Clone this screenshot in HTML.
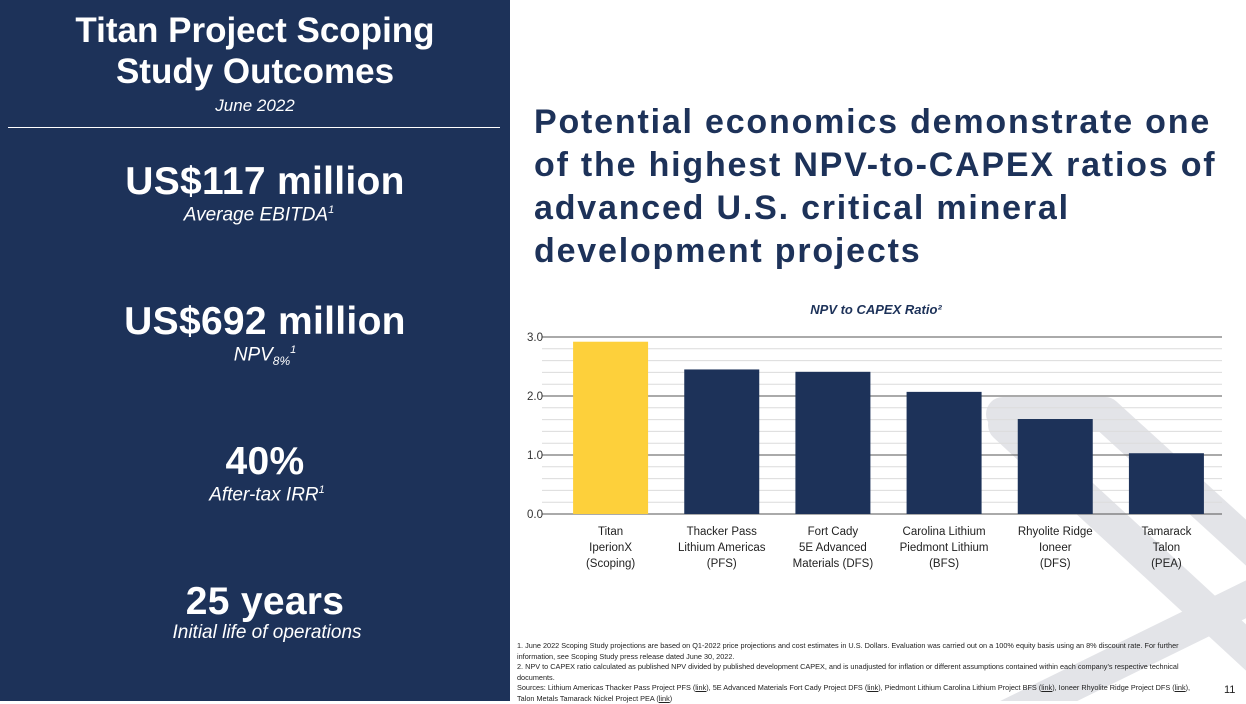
<!DOCTYPE html>
<html><head><meta charset="utf-8">
<style>
html,body{margin:0;padding:0;}
body{width:1246px;height:701px;position:relative;overflow:hidden;background:#fff;font-family:"Liberation Sans",sans-serif;}
#left{position:absolute;left:0;top:0;width:510px;height:701px;background:#1d3259;color:#fff;text-align:center;}
.big{position:absolute;left:0;width:510px;font-weight:bold;font-size:39px;letter-spacing:0.3px;}
.sub{position:absolute;left:0;width:510px;font-style:italic;font-size:19px;}
#title{position:absolute;left:534px;top:101px;width:712px;font-weight:bold;font-size:34px;line-height:43px;color:#1d3259;letter-spacing:1.8px;white-space:nowrap;}
#foot{position:absolute;left:517px;top:641px;width:690px;font-size:7.3px;line-height:10.5px;color:#222;}
</style></head><body>
<div id="left">
  <div style="position:absolute;left:0;top:10px;width:510px;font-weight:bold;font-size:35px;line-height:41px;">Titan Project Scoping<br>Study Outcomes</div>
  <div class="sub" style="top:96px;font-size:17px;">June 2022</div>
  <div style="position:absolute;left:8px;top:127px;width:492px;height:1px;background:#fff;"></div>
  <div class="big" style="top:160px;left:10px;">US$117 million</div>
  <div class="sub" style="top:204px;left:4px;">Average EBITDA<sup style="font-size:11px">1</sup></div>
  <div class="big" style="top:300px;left:10px;">US$692 million</div>
  <div class="sub" style="top:344px;left:10px;">NPV<sub style="font-size:12px">8%</sub><sup style="font-size:11px">1</sup></div>
  <div class="big" style="top:440px;left:10px;">40%</div>
  <div class="sub" style="top:484px;left:12px;">After-tax IRR<sup style="font-size:11px">1</sup></div>
  <div class="big" style="top:580px;left:10px;">25 years</div>
  <div class="sub" style="top:622px;left:12px;">Initial life of operations</div>
</div>
<svg style="position:absolute;left:0;top:0" width="1246" height="701">
  <path d="M1003,414 L1105,414 L1265,560" fill="none" stroke="#e3e4e8" stroke-width="34" stroke-linejoin="round" stroke-linecap="round"/>
  <path d="M1005,425 L1265,665" fill="none" stroke="#e3e4e8" stroke-width="34" stroke-linecap="round"/>
  <path d="M1000,720 L1265,590" fill="none" stroke="#e3e4e8" stroke-width="34" stroke-linecap="round"/>
</svg>
<div id="title">Potential economics demonstrate one<br>of the highest NPV-to-CAPEX ratios of<br>advanced U.S. critical mineral<br>development projects</div>
<svg id="chart" style="position:absolute;left:0;top:0" width="1246" height="701"></svg>
<div id="foot">1. June 2022 Scoping Study projections are based on Q1-2022 price projections and cost estimates in U.S. Dollars. Evaluation was carried out on a 100% equity basis using an 8% discount rate. For further information, see Scoping Study press release dated June 30, 2022.<br>2. NPV to CAPEX ratio calculated as published NPV divided by published development CAPEX, and is unadjusted for inflation or different assumptions contained within each company's respective technical documents.<br>Sources: Lithium Americas Thacker Pass Project PFS (<u>link</u>), 5E Advanced Materials Fort Cady Project DFS (<u>link</u>), Piedmont Lithium Carolina Lithium Project BFS (<u>link</u>), Ioneer Rhyolite Ridge Project DFS (<u>link</u>), Talon Metals Tamarack Nickel Project PEA (<u>link</u>)</div>
<div style="position:absolute;left:1224px;top:684px;font-size:11px;color:#222;">11</div>
<script>
const categories=[["Titan","IperionX","(Scoping)"],["Thacker Pass","Lithium Americas","(PFS)"],["Fort Cady","5E Advanced","Materials (DFS)"],["Carolina Lithium","Piedmont Lithium","(BFS)"],["Rhyolite Ridge","Ioneer","(DFS)"],["Tamarack","Talon","(PEA)"]];
const values=[2.92,2.45,2.41,2.07,1.61,1.03];
const tickValues=[0,1,2,3];
const tickLabels=["0.0","1.0","2.0","3.0"];
const NS="http://www.w3.org/2000/svg";
const svg=document.getElementById('chart');
const x0=555,x1=1222,xL=542,y0=514,yTop=337,yMax=3;
const band=(x1-x0)/categories.length;
function y(v){return y0-(v/yMax)*(y0-yTop);}
function xc(i){return x0+band*(i+0.5);}
function mk(t,a,txt){const e=document.createElementNS(NS,t);for(const k in a)e.setAttribute(k,a[k]);if(txt!==undefined)e.textContent=txt;svg.appendChild(e);return e;}
for(let v=0.2;v<yMax-0.01;v+=0.2){ if(Math.abs(v-Math.round(v))<0.01)continue;
  const g=mk('line',{x1:xL,x2:x1,y1:y(v),y2:y(v),stroke:'#dcdcdc','stroke-width':1});
  
  }
tickValues.forEach((v,i)=>{
  const g=mk('line',{x1:xL,x2:x1,y1:y(v),y2:y(v),stroke:'#555','stroke-width':1});
  
  
  const t=mk('text',{x:543,y:y(v)+4,'text-anchor':'end','font-size':'11.5','fill':'#333','font-family':'Liberation Sans'},tickLabels[i]);
  
  
});
values.forEach((v,i)=>{
  const r=mk('rect',{x:xc(i)-37.5,y:y(v),width:75,height:y0-y(v),fill:i===0?'#fdd03b':'#1d3259'});
  
  
  categories[i].forEach((s,j)=>{
    const t=mk('text',{x:xc(i),y:535+j*16,'text-anchor':'middle','font-size':'11.5','fill':'#222','font-family':'Liberation Sans'},s);
    
    
  });
});
const ct=mk('text',{x:876,y:314,'text-anchor':'middle','font-size':'13','font-weight':'bold','font-style':'italic','fill':'#1d3259','font-family':'Liberation Sans'},'NPV to CAPEX  Ratio²');


</script>
</body></html>
